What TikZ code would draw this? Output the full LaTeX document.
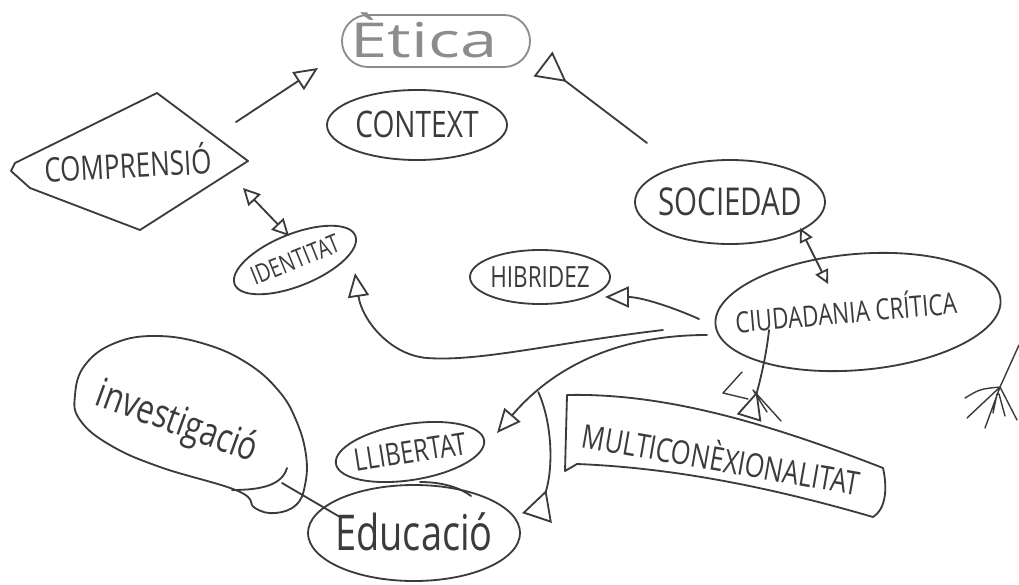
\documentclass[tikz,border=0pt]{standalone}
\usepackage{fontspec}
\setmainfont{Open Sans}
\usetikzlibrary{shapes.geometric,shapes.misc,arrows.meta}

\definecolor{ink}{HTML}{3B3B3B}
\definecolor{pencil}{HTML}{8C8C8C}

% hand-lettered label: stretched upwards, zero-size box centred on the node
\newcommand\handtext[2][0pt]{\raisebox{-0.46em}[0pt][0pt]{\makebox[0pt]{\hspace*{#1}\scalebox{1}[1.3]{#2}}}}

\tikzset{
  inkline/.style={line width=1.3pt, line cap=round, line join=round},
  bubble/.style={ellipse, draw, inkline, inner sep=0pt},
  word/.style={inner sep=0pt},
  thin/.style={line width=1pt},
  bigtip/.tip={Triangle[open, length=17pt, width=15pt]},
  midtip/.tip={Triangle[open, length=12pt, width=12pt]},
  smalltip/.tip={Triangle[open, length=10pt, width=10pt]},
  backtip/.tip={Triangle[open, reversed, length=20pt, width=18pt]},
  widebacktip/.tip={Triangle[open, reversed, length=21pt, width=22pt]},
}

\begin{document}
\begin{tikzpicture}[x=0.025cm, y=-0.025cm, color=ink, inkline]
\useasboundingbox (0,0) rectangle (1019,585);

% ---- concepts ----
\node[rounded rectangle, draw=pencil, text=pencil, minimum width=4.7cm, minimum height=1.3cm,
      inner sep=0pt, font=\fontsize{38}{42}\selectfont] (etica) at (436,41)
  {\raisebox{-0.3em}[0pt][0pt]{\makebox[0pt]{\hspace*{-0.6cm}\scalebox{1.25}[0.9]{Ètica}}}};

\node[bubble, minimum width=4.5cm, minimum height=1.75cm, font=\fontsize{20}{22}\selectfont]
  (context) at (417,125) {\handtext{CONTEXT}};

\node[word, rotate=3, font=\fontsize{18.5}{20}\selectfont] (compr) at (128,166) {\handtext{COMPRENSIÓ}};
\draw (15,163) -- (157,93) -- (248,161) -- (140,230) -- (30,188) -- (11,171) -- cycle;

\node[bubble, rotate=22, minimum width=3.25cm, minimum height=1.3cm, font=\fontsize{14}{16}\selectfont]
  (ident) at (295,260) {\handtext{IDENTITAT}};

\node[bubble, minimum width=4.75cm, minimum height=2.1cm, font=\fontsize{21}{24}\selectfont]
  (soc) at (730,202) {\handtext{SOCIEDAD}};

\node[bubble, minimum width=3.5cm, minimum height=1.35cm, font=\fontsize{16}{18}\selectfont]
  (hib) at (540,277) {\handtext{HIBRIDEZ}};

\node[bubble, rotate=5, minimum width=7.15cm, minimum height=2.9cm, font=\fontsize{16}{18}\selectfont]
  (ciu) at (858,312) {\handtext[-0.6cm]{CIUDADANIA CRÍTICA}};

\node[bubble, rotate=9, minimum width=3.75cm, minimum height=1.4cm, font=\fontsize{17}{19}\selectfont]
  (lib) at (410,452) {\handtext{LLIBERTAT}};

\node[bubble, minimum width=5.3cm, minimum height=2.4cm, font=\fontsize{27}{30}\selectfont]
  (edu) at (414,533) {\handtext{Educació}};
\draw (420,482) .. controls (445,482) and (462,489) .. (471,496);

\node[word, rotate=-20, font=\fontsize{22}{24}\selectfont] (inv) at (178,420) {\handtext{investigació}};
\draw plot[smooth cycle, tension=0.7] coordinates {
  (238,491) (160,467) (110,445) (80,420) (75,395) (85,365) (115,343) (157,336)
  (205,344) (247,363) (278,390) (296,420) (306,455) (305,485) (296,505) (275,513)
  (255,508)};
\draw (287,468) .. controls (282,485) and (262,490) .. (232,490);

\node[word, rotate=-10, font=\fontsize{18}{20}\selectfont] (multi) at (721,460) {\handtext{MULTICONÈXIONALITAT}};
\draw (567,395) .. controls (660,393) and (760,420) .. (883,468)
      .. controls (888,490) and (885,510) .. (873,517)
      .. controls (780,490) and (680,468) .. (577,464)
      -- (565,471) -- cycle;

% ---- connector ends ----
\coordinate (cmpE)  at (236,122);
\coordinate (etiL)  at (318,68);
\coordinate (socN)  at (647,143);
\coordinate (etiR)  at (543,64);
\coordinate (cmpS)  at (243,188);
\coordinate (ideN)  at (289,236);
\coordinate (socS)  at (800,228);
\coordinate (ciuN)  at (828,284);
\coordinate (ciuW1) at (699,319);
\coordinate (hibE)  at (605,297);
\coordinate (ciuW2) at (663,330);
\coordinate (ideS)  at (355,273);
\coordinate (ciuW3) at (707,335);
\coordinate (libE)  at (497,433);
\coordinate (eduE)  at (537,518);
\coordinate (ciuS)  at (769,330);
\coordinate (mcTop) at (749,418);
\coordinate (invS)  at (282,483);
\coordinate (eduNW) at (340,517);

% ---- connectors ----
\draw[-{bigtip}] (cmpE) -- (etiL);
\draw[-{widebacktip}] (socN) -- (etiR);
\draw[{midtip}-{midtip}] (cmpS) -- (ideN);
\draw[{smalltip}-{smalltip}] (socS) -- (ciuN);
\draw[-{bigtip}] (ciuW1) .. controls (670,306) and (640,297) .. (hibE);
\draw[-{bigtip}] (ciuW2) .. controls (560,342) and (480,362) .. (427,358)
                         .. controls (390,355) and (362,320) .. (ideS);
\draw[-{bigtip}] (ciuW3) .. controls (620,335) and (555,365) .. (libE) coordinate[pos=0.77] (branch);
\draw[-{widebacktip}] (branch) .. controls (553,425) and (553,470) .. (eduE);
\draw[-{backtip}] (ciuS) .. controls (766,360) and (757,392) .. (mcTop);
\draw[thin] (742,372) -- (723,393) -- (748,399) (753,390) -- (781,421) (753,390) -- (767,412);
\draw (invS) -- (eduNW);

% ---- loose strokes at the right edge ----
\draw[thin] (1019,345) -- (1000,387)
  (965,398) .. controls (980,389) .. (1000,387)
  (1000,387) -- (967,418) (1000,387) -- (985,428) (1000,387) -- (1017,420)
  (997,394) -- (993,413) (999,394) -- (1005,416);
\end{tikzpicture}
\end{document}
